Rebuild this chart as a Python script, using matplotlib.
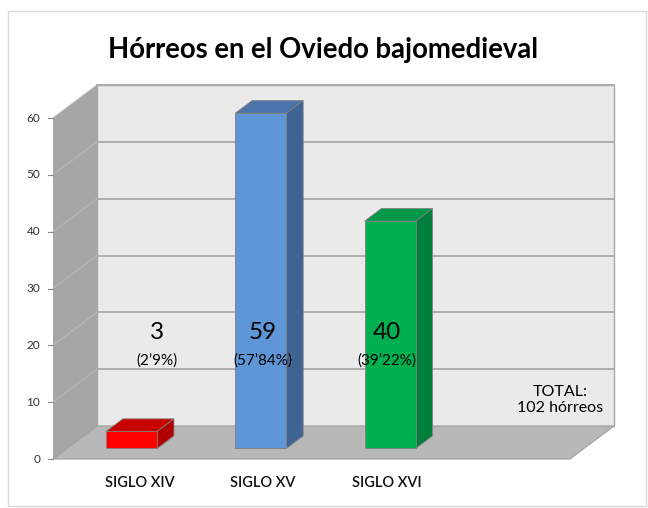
import matplotlib.pyplot as plt
from matplotlib.patches import Polygon, Rectangle

# ---- datos ----
categorias = ["SIGLO XIV", "SIGLO XV", "SIGLO XVI"]
horreos = [3, 59, 40]
porcentajes = ["(2’9%)", "(57’84%)", "(39’22%)"]
total_txt = "TOTAL:\n102 hórreos"
titulo = "Hórreos en el Oviedo bajomedieval"
yticks = [0, 10, 20, 30, 40, 50, 60]

# colores: frente, tapa, lado
col_frente = ["#FF0000", "#5F96D7", "#00B050"]
col_tapa = ["#C80000", "#4A74AA", "#00984A"]
col_lado = ["#B00000", "#3F6494", "#007E3C"]

# ---- perspectiva falsa 3D ----
DX = 44 / 129.25
DY = 33 / 5.683
Z0, Z1 = 0.32, 0.70
W = 0.395


def proj(x, y, z):
    return (x + z * DX, y + z * DY)


plt.rcParams['font.family'] = ['Lato', 'DejaVu Sans']
fig = plt.figure(figsize=(6.48, 5.08), dpi=100)
ax = fig.add_axes([0, 0, 1, 1])
ax.set_xlim(-0.91, 4.104)
ax.set_ylim(-8.622, 80.77)
ax.axis('off')

# marco exterior
fig.patches.append(Rectangle((8 / 648, 2 / 508), 638 / 648, 495 / 508,
                             transform=fig.transFigure, fill=False,
                             edgecolor="#D9D9D9", lw=1))

x0, x1, ymax = -0.5, 3.5, yticks[-1]

# pared del fondo
ax.add_patch(Polygon([proj(x0, 0, 1), proj(x1, 0, 1), proj(x1, ymax, 1), proj(x0, ymax, 1)],
                     closed=True, facecolor="#EAEAEA", edgecolor="#A8A8A8", lw=1, zorder=1))
# pared izquierda
ax.add_patch(Polygon([proj(x0, 0, 0), proj(x0, 0, 1), proj(x0, ymax, 1), proj(x0, ymax, 0)],
                     closed=True, facecolor="#A6A6A6", edgecolor="none", zorder=1))
# suelo
ax.add_patch(Polygon([proj(x0, 0, 0), proj(x1, 0, 0), proj(x1, 0, 1), proj(x0, 0, 1)],
                     closed=True, facecolor="#B8B8B8", edgecolor="#A0A0A0", lw=0.8, zorder=2))

# rejilla
for v in yticks[1:]:
    a, b = proj(x0, v, 1), proj(x1, v, 1)
    ax.plot([a[0], b[0]], [a[1], b[1]], color="#A9A9A9", lw=1.3, zorder=1.5)
    c = proj(x0, v, 0)
    ax.plot([c[0], a[0]], [c[1], a[1]], color="#B9B9B9", lw=0.8, zorder=1.5)

# eje y
for v in yticks:
    ax.plot([x0 - 0.04, x0], [v, v], color="#8C8C8C", lw=0.8, zorder=2)
    ax.text(x0 - 0.1, v, str(v), ha="right", va="center", fontsize=8.5, color="#333333")

# barras
for i, h in enumerate(horreos):
    fx, fy = proj(i, 0, Z0)
    ax.bar(fx, h, W, bottom=fy, color=col_frente[i], edgecolor="#7F7F7F", lw=0.6, zorder=5)
    tapa = [proj(i - W / 2, h, Z0), proj(i + W / 2, h, Z0), proj(i + W / 2, h, Z1), proj(i - W / 2, h, Z1)]
    ax.add_patch(Polygon(tapa, closed=True, facecolor=col_tapa[i], edgecolor="#7F7F7F", lw=0.6, zorder=4))
    lado = [proj(i + W / 2, 0, Z0), proj(i + W / 2, 0, Z1), proj(i + W / 2, h, Z1), proj(i + W / 2, h, Z0)]
    ax.add_patch(Polygon(lado, closed=True, facecolor=col_lado[i], edgecolor="#7F7F7F", lw=0.6, zorder=4))

# etiquetas de valores (cuadros de texto colocados a mano)
etq_dx = [0.305, 0.125, 0.085]
for i, h in enumerate(horreos):
    ax.text(i + etq_dx[i], 22.2, str(h), ha="center", va="center", fontsize=17.5, color="black", zorder=6)
    ax.text(i + etq_dx[i], 17.4, porcentajes[i], ha="center", va="center", fontsize=11, color="black", zorder=6)

# categorias
cat_dx = [0.173, 0.125, 0.085]
for i, c in enumerate(categorias):
    ax.text(i + cat_dx[i], -4.22, c, ha="center", va="center", fontsize=10.5, color="#111111",
            fontweight="semibold")

ax.text(3.424, 10.4, total_txt, ha="center", va="center", fontsize=11.5,
        linespacing=1.25, color="black", zorder=6)

fig.text(323 / 648, 1 - 58 / 508, titulo, ha="center", va="baseline",
         fontsize=19.8, fontweight="bold", color="black")

fig.savefig("out.png", dpi=100)
